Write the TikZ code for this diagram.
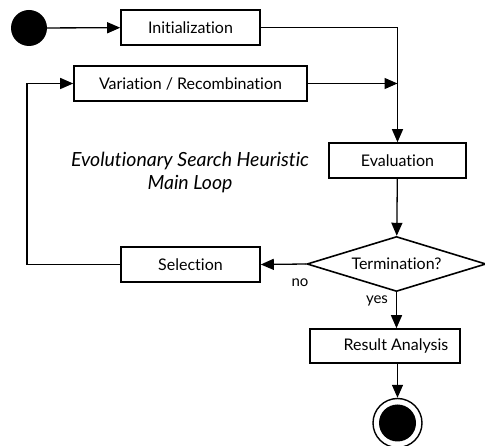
\documentclass[tikz,border=0pt]{standalone}
\usepackage{fontspec}
\setmainfont{Lato}[Ligatures={NoCommon,NoContextual}]
\usetikzlibrary{arrows.meta,shapes.geometric}

\tikzset{
  flow/.style={line width=1.3pt, -{Triangle[length=13pt,width=11pt]}},
  act/.style={draw, line width=1.6pt, rectangle, minimum height=35pt, inner sep=0pt, font=\fontsize{16}{18}\selectfont},
  decide/.style={draw, line width=1.6pt, diamond, aspect=3.25, minimum width=179pt, minimum height=55pt, inner sep=0pt, font=\fontsize{16}{18}\selectfont},
  lbl/.style={inner sep=0pt, font=\fontsize{15}{17}\selectfont},
}

\begin{document}
\begin{tikzpicture}[x=1pt, y=-1pt]
  \useasboundingbox (0,0) rectangle (485,446);

  % initial and final states
  \node[circle, fill=black, minimum size=36pt, inner sep=0pt] (start) at (29,28) {};
  \node[circle, draw, line width=1.4pt, minimum size=49pt, inner sep=0pt] (end) at (397.5,423) {};
  \fill (end.center) circle (18.5pt);

  % activities
  \node[act, minimum width=139pt] (init) at (190.5,27.5) {Initialization};
  \node[act, minimum width=233pt] (var)  at (190.5,83.5) {Variation / Recombination};
  \node[act, minimum width=137pt] (eval) at (397.5,160.5) {Evaluation};
  \node[decide] (term) at (396.5,264) {Termination?};
  \node[act, minimum width=139pt] (sel)  at (190.5,264.5) {Selection};
  \node[act, minimum width=150pt, minimum height=34pt] (res) at (385,346) {\hspace*{22pt}Result Analysis};

  % loop caption
  \node[inner sep=0pt, align=center, font=\fontsize{19.5}{23}\selectfont\itshape] (cap) at (190,172)
    {Evolutionary Search Heuristic\\Main Loop};

  % junction where both branches enter the evaluation
  \coordinate (join) at (eval.north |- var.east);
  \coordinate (back) at (27,83.5);

  % connectors
  \draw[flow] (start) -- (init);
  \draw[flow] (init.east) -| (eval.north);
  \draw[flow] (var.east) -- (join);
  \draw[flow] (eval) -- (term);
  \draw[flow] (term.west) -- (sel.east);
  \draw[flow] (sel.west) -| (back) -- (var.west);
  \draw[flow] (term.south) -- (term.south |- res.north);
  \draw[flow] (end.north |- res.south) -- (end.north);

  % branch guards
  \node[lbl] (no)  at (300,283) {no};
  \node[lbl] (yes) at (377,301) {yes};
\end{tikzpicture}
\end{document}
